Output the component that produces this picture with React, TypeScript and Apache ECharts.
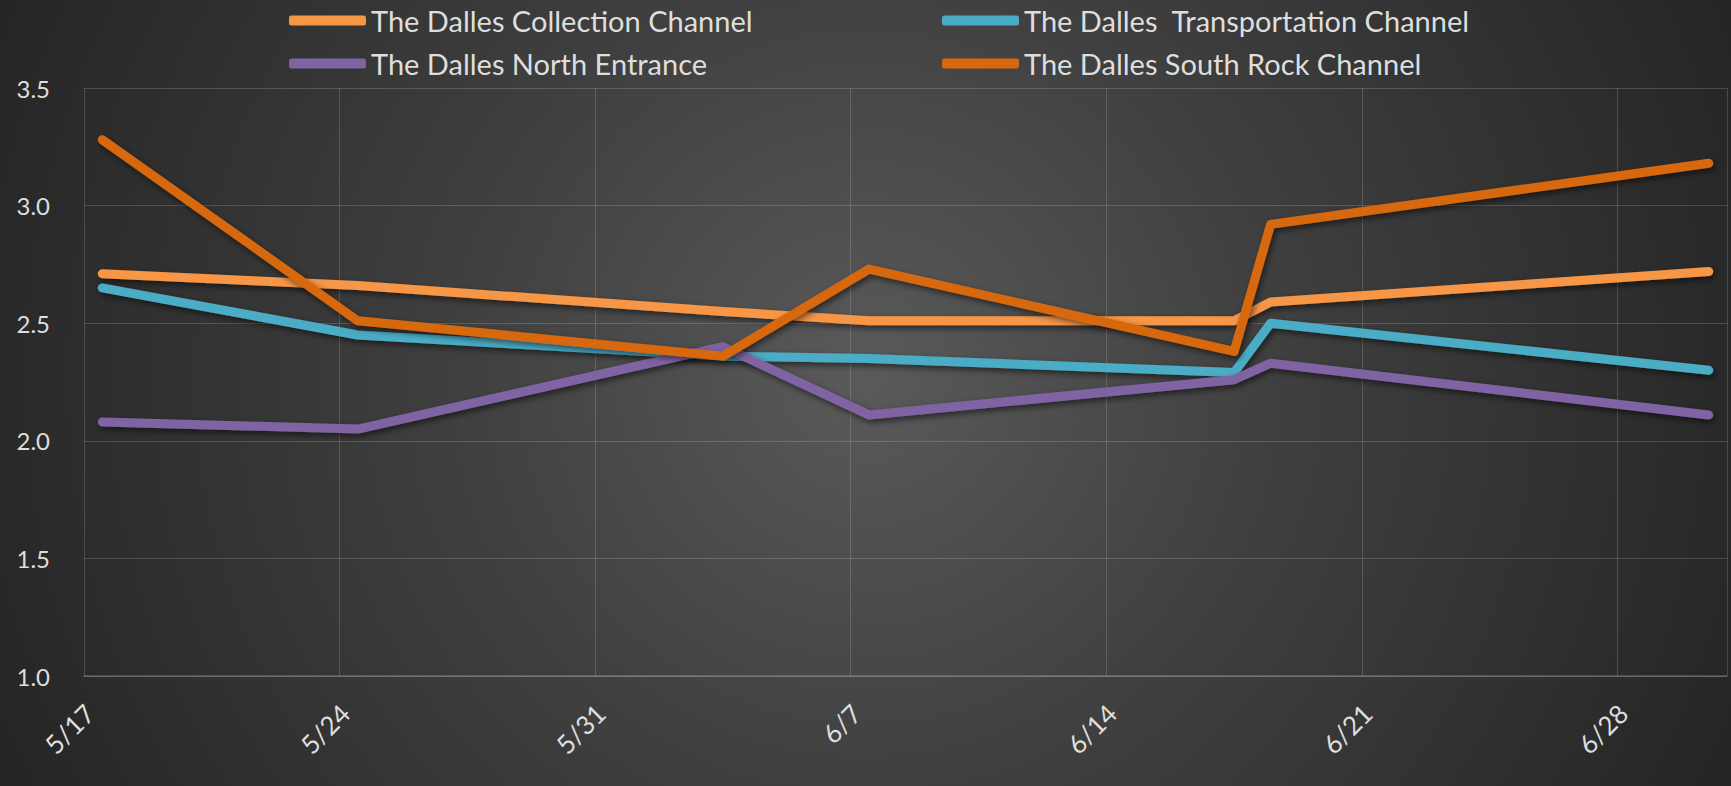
import React, { useEffect, useRef } from "react";
import * as echarts from "echarts";

// ---- data ----
const axisStart = "5/17";
const dayCount = 45; // 5/17 .. 6/30
const sampleDates = ["5/17", "5/24", "6/3", "6/7", "6/17", "6/18", "6/30"];
const collectionChannel = [2.71, 2.66, 2.55, 2.51, 2.51, 2.59, 2.72];
const transportationChannel = [2.65, 2.45, 2.36, 2.35, 2.29, 2.5, 2.3];
const northEntrance = [2.08, 2.05, 2.4, 2.11, 2.26, 2.33, 2.11];
const southRockChannel = [3.28, 2.51, 2.36, 2.73, 2.38, 2.92, 3.18];
const xTickLabels = ["5/17", "5/24", "5/31", "6/7", "6/14", "6/21", "6/28"];
const yTicks = [1.0, 1.5, 2.0, 2.5, 3.0, 3.5];

const seriesNames = [
  "The Dalles Collection Channel",
  "The Dalles  Transportation Channel",
  "The Dalles North Entrance",
  "The Dalles South Rock Channel",
];
const seriesColors = ["#F79646", "#4BACC6", "#8064A2", "#D8680E"];
const seriesValues = [collectionChannel, transportationChannel, northEntrance, southRockChannel];

function dayIndex(md: string): number {
  const [m, d] = md.split("/").map(Number);
  const [m0, d0] = axisStart.split("/").map(Number);
  return Math.round((Date.UTC(2000, m - 1, d) - Date.UTC(2000, m0 - 1, d0)) / 86400000);
}

const FONT = "Lato, 'Open Sans', sans-serif";
const TEXT = "#dedede";

export default function App() {
  const ref = useRef<HTMLDivElement>(null);
  useEffect(() => {
    document.body.style.margin = "0";
    const chart = echarts.init(ref.current!, undefined, { renderer: "svg" });
    const categoryLabels: string[] = [];
    for (let i = 0; i < dayCount; i++) {
      categoryLabels.push(i % 7 === 0 ? xTickLabels[i / 7] : "");
    }
    const series = seriesNames.map((name, k) => ({
      name,
      type: "line",
      xAxisIndex: 0,
      yAxisIndex: 0,
      showSymbol: false,
      symbol: "none",
      color: seriesColors[k],
      lineStyle: {
        width: 9,
        color: seriesColors[k],
        cap: "round",
        join: "round",
        shadowColor: "rgba(0,0,0,0.55)",
        shadowBlur: 6,
        shadowOffsetX: 2,
        shadowOffsetY: 3,
      },
      data: sampleDates.map((d, i) => [dayIndex(d) + 0.5, seriesValues[k][i]]),
    }));
    const legendCommon = {
      orient: "vertical",
      icon: "roundRect",
      itemWidth: 77,
      itemHeight: 10,
      itemGap: 14,
      textStyle: { color: TEXT, fontSize: 29, fontFamily: FONT, lineHeight: 29 },
    };
    chart.setOption({
      animation: false,
      backgroundColor: "transparent",
      grid: { left: 84, right: 4, top: 88, bottom: 110, containLabel: false },
      legend: [
        { ...legendCommon, left: 284, top: 1, data: [seriesNames[0], seriesNames[2]] },
        { ...legendCommon, left: 937, top: 1, data: [seriesNames[1], seriesNames[3]] },
      ],
      xAxis: [
        {
          type: "value",
          min: 0,
          max: dayCount,
          interval: 7,
          axisLine: { show: true, lineStyle: { color: "rgba(255,255,255,0.22)", width: 1.5 } },
          axisTick: { show: false },
          axisLabel: { show: false },
          splitLine: { show: true, lineStyle: { color: "rgba(255,255,255,0.16)", width: 1 } },
        },
        {
          type: "category",
          position: "bottom",
          data: categoryLabels,
          boundaryGap: true,
          axisLine: { show: false },
          axisTick: { show: false },
          splitLine: { show: false },
          axisLabel: {
            interval: (idx: number) => idx % 7 === 0,
            rotate: 45,
            margin: 20,
            padding: [0, 18, 0, 0],
            color: TEXT,
            fontSize: 26,
            fontFamily: FONT,
          },
        },
      ],
      yAxis: {
        type: "value",
        min: yTicks[0],
        max: yTicks[yTicks.length - 1],
        interval: 0.5,
        axisLine: { show: false },
        axisTick: { show: false },
        axisLabel: {
          color: TEXT,
          fontSize: 24,
          fontFamily: FONT,
          margin: 34,
          formatter: (v: number) => v.toFixed(1),
        },
        splitLine: { show: true, lineStyle: { color: "rgba(255,255,255,0.16)", width: 1 } },
      },
      series,
    });
    return () => chart.dispose();
  }, []);
  return (
    <div
      ref={ref}
      style={{
        position: "absolute",
        left: 0,
        top: 0,
        width: 1731,
        height: 786,
        background:
          "radial-gradient(circle 1000px at 50% 48%, #5a5a5a 0%, #404040 40%, #222222 100%)",
      }}
    />
  );
}
